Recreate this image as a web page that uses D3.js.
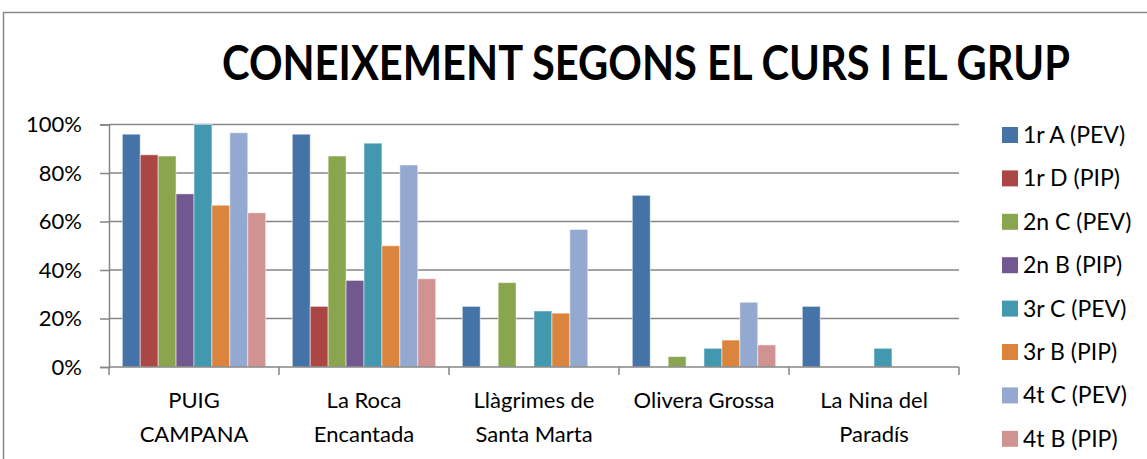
<!DOCTYPE html>
<html>
<head>
<meta charset="utf-8">
<script src="https://cdn.jsdelivr.net/npm/d3@7"></script>
<style>
  body { margin: 0; background: #fff; }
  text { font-family: Lato, "Open Sans", sans-serif; fill: #000; }
</style>
</head>
<body>
<svg id="svg1" width="1147" height="459"></svg>
<script>
// categories (two-line labels) and series
var categories = ["PUIG CAMPANA", "La Roca Encantada", "Llàgrimes de Santa Marta", "Olivera Grossa", "La Nina del Paradís"];
var catLines = [["PUIG", "CAMPANA"], ["La Roca", "Encantada"], ["Llàgrimes de", "Santa Marta"], ["Olivera Grossa"], ["La Nina del", "Paradís"]];
var groups = ["1r A (PEV)", "1r D (PIP)", "2n C (PEV)", "2n B (PIP)", "3r C (PEV)", "3r B (PIP)", "4t C (PEV)", "4t B (PIP)"];
var colors = ["#4572A7", "#AA4643", "#89A54E", "#71588F", "#4198AF", "#DB843D", "#93A9CF", "#D19392"];

// values per group (one per category), in %
var v1rA = [96, 96, 25, 70.8, 25];
var v1rD = [87.5, 25, 0, 0, 0];
var v2nC = [87, 87, 34.8, 4.3, 0];
var v2nB = [71.4, 35.7, 0, 0, 0];
var v3rC = [100, 92.3, 23.1, 7.7, 7.7];
var v3rB = [66.7, 50, 22.2, 11.1, 0];
var v4tC = [96.6, 83.3, 56.7, 26.7, 0];
var v4tB = [63.6, 36.4, 0, 9.1, 0];
var series = [v1rA, v1rD, v2nC, v2nB, v3rC, v3rB, v4tC, v4tB];
var yTicks = [0, 20, 40, 60, 80, 100];

var svg = d3.select('svg');

var plotLeft = 109, plotRight = 959, plotTop = 124.5, plotBottom = 367;

// chart border
svg.append("rect")
   .attr("x", 3.5).attr("y", 12.5)
   .attr("width", 1200).attr("height", 500)
   .attr("fill", "none")
   .attr("stroke", "#878787")
   .attr("stroke-width", 1.5);

svg.append("text")
   .attr("x", 646).attr("y", 80)
   .attr("text-anchor", "middle")
   .attr("font-size", 47)
   .attr("font-weight", "bold")
   .attr("textLength", 848)
   .attr("lengthAdjust", "spacingAndGlyphs")
   .text("CONEIXEMENT SEGONS EL CURS I EL GRUP");

var x0 = d3.scaleBand().domain(categories).range([plotLeft, plotRight]).paddingInner(0).paddingOuter(0);
var x1 = d3.scaleBand().domain(groups).range([13.3, x0.bandwidth() - 13.3]);
var y = d3.scaleLinear().domain([0, 100]).range([plotBottom, plotTop]);

// gridlines
svg.append("g")
   .selectAll("line")
   .data(yTicks.slice(1))
   .enter()
   .append("line")
   .attr("x1", plotLeft).attr("x2", plotRight)
   .attr("y1", function(d) { return y(d); })
   .attr("y2", function(d) { return y(d); })
   .attr("stroke", "#868686")
   .attr("stroke-width", 1.5);

// bars
var gBars = svg.append("g");
series.forEach(function(vals, si) {
  var rows = vals.map(function(v, i) { return { cat: categories[i], v: v }; })
                 .filter(function(d) { return d.v > 0; });
  gBars.append("g")
       .selectAll("rect")
       .data(rows)
       .enter()
       .append("rect")
       .attr("x", function(d) { return x0(d.cat) + x1(groups[si]); })
       .attr("width", x1.bandwidth())
       .attr("y", function(d) { return y(d.v); })
       .attr("height", function(d) { return plotBottom - y(d.v); })
       .attr("fill", colors[si])
       .attr("stroke", "rgba(255,255,255,0.5)")
       .attr("stroke-width", 1);
});

// y axis
var yAxis = svg.append("g")
   .attr("transform", "translate(" + plotLeft + ",0)")
   .call(d3.axisLeft(y).tickValues(yTicks).tickFormat(function(d) { return d + "%"; }).tickSize(9).tickPadding(18));
yAxis.select(".domain").attr("stroke", "#868686").attr("stroke-width", 1.5);
yAxis.selectAll(".tick line").attr("stroke", "#868686").attr("stroke-width", 1.5);
yAxis.selectAll(".tick text").attr("font-size", 22).attr("font-family", "Lato, sans-serif").attr("fill", "#000");

// x axis
var xAxis = svg.append("g")
   .attr("transform", "translate(0," + plotBottom + ")");
xAxis.append("line")
   .attr("x1", plotLeft).attr("x2", plotRight)
   .attr("stroke", "#868686").attr("stroke-width", 1.5);
xAxis.selectAll(".xt")
   .data(d3.range(categories.length + 1))
   .enter()
   .append("line")
   .attr("class", "xt")
   .attr("x1", function(d) { return plotLeft + d * x0.step(); })
   .attr("x2", function(d) { return plotLeft + d * x0.step(); })
   .attr("y1", 0).attr("y2", 8)
   .attr("stroke", "#868686").attr("stroke-width", 1.5);

catLines.forEach(function(lines, i) {
  var t = svg.append("text")
     .attr("text-anchor", "middle")
     .attr("font-size", 22);
  lines.forEach(function(l, j) {
    t.append("tspan")
     .attr("x", x0(categories[i]) + x0.bandwidth() / 2)
     .attr("y", 408 + j * 34)
     .text(l);
  });
});

// legend
var legend = svg.append("g")
   .selectAll("g")
   .data(groups)
   .enter()
   .append("g")
   .attr("transform", function(d, i) { return "translate(1002," + (135 + i * 43.4) + ")"; });
legend.append("rect")
   .attr("x", 0).attr("y", -8)
   .attr("width", 16).attr("height", 16)
   .attr("fill", function(d, i) { return colors[i]; });
legend.append("text")
   .attr("x", 21).attr("y", 8)
   .attr("font-size", 23)
   .text(function(d) { return d; });
</script>
</body>
</html>
